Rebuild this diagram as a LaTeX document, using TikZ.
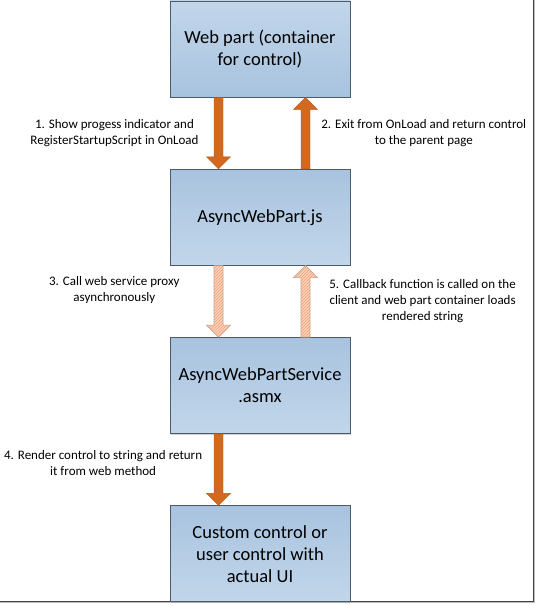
\documentclass[tikz,border=0pt]{standalone}
\usepackage{fontspec}
\setmainfont{Carlito}
\usetikzlibrary{positioning,calc,patterns,shadows}
\definecolor{boxdark}{HTML}{A8C3DF}
\definecolor{boxlight}{HTML}{C2D6EA}
\definecolor{boxline}{HTML}{4E5A66}
\definecolor{callorange}{HTML}{D2691E}
\definecolor{hatchorange}{HTML}{F4B183}
\definecolor{hatchline}{HTML}{C9A48C}

% fat block arrow: style, from, to, x offset
\newcommand{\fatarrow}[4]{%
  \coordinate (fa-s) at ($(#2)+(#4,0)$);
  \coordinate (fa-e) at ($(#3)+(#4,0)$);
  \coordinate (fa-h) at ($(fa-e)!12pt!(fa-s)$);
  \draw[#1] ($(fa-s)!4.5pt!90:(fa-e)$) -- ($(fa-h)!4.5pt!90:(fa-e)$)
    -- ($(fa-h)!12pt!90:(fa-e)$) -- (fa-e) -- ($(fa-h)!12pt!-90:(fa-e)$)
    -- ($(fa-h)!4.5pt!-90:(fa-e)$) -- ($(fa-s)!4.5pt!-90:(fa-e)$) -- cycle;}

\begin{document}
\begin{tikzpicture}[x=1pt,y=-1pt,node distance=71.5pt,line width=0.8pt]
  \tikzstyle{block} = [draw=boxline,top color=boxdark,bottom color=boxlight,
    minimum width=180pt,minimum height=96pt,align=center,
    font=\fontsize{18.5}{22}\selectfont,
    drop shadow={shadow xshift=1.2pt,shadow yshift=-1.2pt,opacity=.35}]
  \tikzstyle{note} = [align=center,inner sep=0pt,font=\fontsize{13}{16}\selectfont]
  \tikzstyle{solid call} = [fill=callorange,draw=callorange!85!black,line width=0.4pt]
  \tikzstyle{async call} = [preaction={fill=hatchorange!55},pattern=north east lines,
    pattern color=hatchorange!90!red,draw=hatchline,line width=0.6pt]

  \useasboundingbox (0,0) rectangle (538,606);
  \begin{scope}
    \clip (0,0) rectangle (538,606);
    \draw[draw=black!75,line width=0.8pt,fill=white,
      drop shadow={shadow xshift=1.6pt,shadow yshift=-1.6pt,opacity=.5}]
      (-10,-10) rectangle (533.5,601);
  \end{scope}

  \node[block,top color=boxlight,bottom color=boxdark] (web) at (260,48.9) {Web part (container\\for control)};
  \node[block] (async)   [below=of web]     {AsyncWebPart.js};
  \node[block] (service) [below=of async]   {AsyncWebPartService\\.asmx};
  \node[block] (custom)  [below=of service] {Custom control or\\user control with\\actual UI};

  \fatarrow{solid call}{web.south}{async.north}{-41.5}
  \fatarrow{solid call}{async.north}{web.south}{45.5}
  \fatarrow{async call}{async.south}{service.north}{-41.5}
  \fatarrow{async call}{service.north}{async.south}{45.5}
  \fatarrow{solid call}{service.south}{custom.north}{-41.5}

  \coordinate (m1) at ($(web.south)!0.5!(async.north)+(-41.5,0)$);
  \coordinate (m2) at ($(web.south)!0.5!(async.north)+(45.5,0)$);
  \coordinate (m3) at ($(async.south)!0.5!(service.north)+(-41.5,0)$);
  \coordinate (m5) at ($(async.south)!0.5!(service.north)+(45.5,0)$);
  \coordinate (m4) at ($(service.south)!0.5!(custom.north)+(-41.5,0)$);

  \node[note,left=19.5pt of m1]  (t1) {1. Show progess indicator and\\RegisterStartupScript in OnLoad};
  \node[note,right=15.5pt of m2] (t2) {2. Exit from OnLoad and return control\\to the parent page};
  \node[note,left=38.5pt of m3,yshift=11.5pt] (t3) {3. Call web service proxy\\asynchronously};
  \node[note,right=23.5pt of m5] (t5) {5. Callback function is called on the\\client and web part container loads\\rendered string};
  \node[note,left=16pt of m4,yshift=6.5pt] (t4) {4. Render control to string and return\\it from web method};
\end{tikzpicture}
\end{document}
